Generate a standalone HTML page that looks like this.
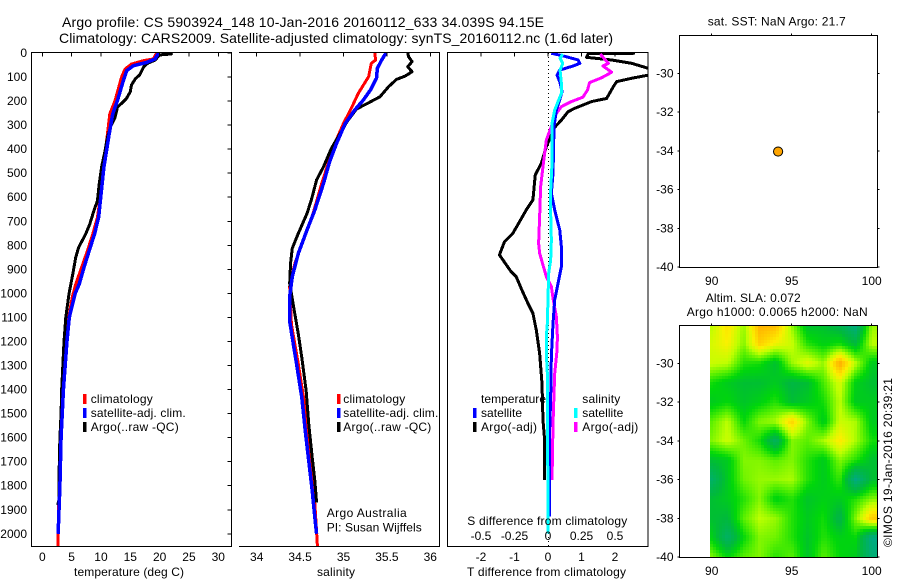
<!DOCTYPE html>
<html lang="en">
<head>
<meta charset="utf-8">
<title>Argo profile CS 5903924_148</title>
<style>
html,body{margin:0;padding:0;background:#fff;}
svg{display:block;}
text{font-family:"Liberation Sans",Arial,sans-serif;font-size:12px;fill:#000;}
.title{font-size:14px;}
</style>
</head>
<body>
<svg id="chart" xmlns="http://www.w3.org/2000/svg" width="900" height="580" viewBox="0 0 900 580">
  <defs>
    <clipPath id="clip-temp"><rect x="31" y="52" width="200.5" height="494.5"/></clipPath>
    <clipPath id="clip-sal"><rect x="239" y="52" width="200.5" height="494.5"/></clipPath>
    <clipPath id="clip-diff"><rect x="447.5" y="52" width="200.5" height="494.5"/></clipPath>
    <clipPath id="clip-map"><rect x="679.5" y="325" width="198" height="232"/></clipPath>
  </defs>
  <rect x="0" y="0" width="900" height="580" fill="#fff"/>

  <text class="title" x="62" y="27" textLength="482" lengthAdjust="spacing">Argo profile: CS 5903924_148 10-Jan-2016 20160112_633 34.039S 94.15E</text>
  <text class="title" x="59" y="43" textLength="554" lengthAdjust="spacing">Climatology: CARS2009. Satellite-adjusted climatology: synTS_20160112.nc (1.6d later)</text>

  <g id="temp-panel">
    <g id="temp-lines" clip-path="url(#clip-temp)"></g>
    <path d="M31.5 52.5H231.5V546.5H31.5Z" fill="none" stroke="#000" stroke-width="1" shape-rendering="crispEdges"/>
    <g id="temp-ticks"></g>
    <text x="129" y="576" text-anchor="middle" textLength="110" lengthAdjust="spacing">temperature (deg C)</text>
    <rect x="83" y="394" width="3.5" height="10" fill="#f00"/>
    <text x="90.7" y="403" textLength="62" lengthAdjust="spacing">climatology</text>
    <rect x="83" y="408" width="3.5" height="10" fill="#00f"/>
    <text x="90.7" y="417" textLength="95" lengthAdjust="spacing">satellite-adj. clim.</text>
    <rect x="83" y="422" width="3.5" height="10" fill="#000"/>
    <text x="90.7" y="431" textLength="88" lengthAdjust="spacing">Argo(..raw -QC)</text>
  </g>

  <g id="sal-panel">
    <g id="sal-lines" clip-path="url(#clip-sal)"></g>
    <path d="M239 52.5H439.5V546.5H239" fill="none" stroke="#000" stroke-width="1" shape-rendering="crispEdges"/>
    <g id="sal-ticks"></g>
    <text x="336" y="576" text-anchor="middle" textLength="38" lengthAdjust="spacing">salinity</text>
    <rect x="337" y="394" width="3.5" height="10" fill="#f00"/>
    <text x="343.3" y="403" textLength="62" lengthAdjust="spacing">climatology</text>
    <rect x="337" y="408" width="3.5" height="10" fill="#00f"/>
    <text x="343.3" y="417" textLength="95" lengthAdjust="spacing">satellite-adj. clim.</text>
    <rect x="337" y="422" width="3.5" height="10" fill="#000"/>
    <text x="343.3" y="431" textLength="88" lengthAdjust="spacing">Argo(..raw -QC)</text>
    <text x="326.7" y="517" textLength="80" lengthAdjust="spacing">Argo Australia</text>
    <text x="326.7" y="531.5" textLength="95" lengthAdjust="spacing">PI: Susan Wijffels</text>
  </g>

  <g id="diff-panel">
    <line x1="548.5" y1="53" x2="548.5" y2="546" stroke="#000" stroke-width="1" stroke-dasharray="1 3" shape-rendering="crispEdges"/>
    <g id="diff-lines" clip-path="url(#clip-diff)"></g>
    <path d="M447.5 52.5H648V546.5H447.5Z" fill="none" stroke="#000" stroke-width="1" shape-rendering="crispEdges"/>
    <g id="diff-ticks"></g>
    <text x="467" y="576" textLength="159" lengthAdjust="spacing">T difference from climatology</text>
    <text x="467.3" y="525" textLength="160" lengthAdjust="spacing">S difference from climatology</text>
    <text x="481" y="403" textLength="65" lengthAdjust="spacing">temperature</text>
    <rect x="473" y="408" width="3.5" height="10" fill="#00f"/>
    <text x="481" y="417" textLength="41" lengthAdjust="spacing">satellite</text>
    <rect x="473" y="422" width="3.5" height="10" fill="#000"/>
    <text x="481" y="431" textLength="56" lengthAdjust="spacing">Argo(-adj)</text>
    <text x="582.3" y="403" textLength="38" lengthAdjust="spacing">salinity</text>
    <rect x="574" y="408" width="3.5" height="10" fill="#0ff"/>
    <text x="582.3" y="417" textLength="41" lengthAdjust="spacing">satellite</text>
    <rect x="574" y="422" width="3.5" height="10" fill="#f0f"/>
    <text x="582.3" y="431" textLength="56" lengthAdjust="spacing">Argo(-adj)</text>
  </g>

  <g id="sst-map">
    <text x="776.7" y="25.5" text-anchor="middle" textLength="138" lengthAdjust="spacing">sat. SST: NaN Argo: 21.7</text>
    <rect x="679.5" y="35.5" width="198" height="232" fill="none" stroke="#000" stroke-width="1" shape-rendering="crispEdges"/>
    <g id="sst-ticks"></g>
    <g id="sst-marks"></g>
  </g>

  <g id="sla-map">
    <text x="705.7" y="302" textLength="95" lengthAdjust="spacing">Altim. SLA: 0.072</text>
    <text x="686.7" y="316" textLength="181" lengthAdjust="spacing">Argo h1000: 0.0065 h2000: NaN</text>
    <g id="sla-cells" clip-path="url(#clip-map)"></g>
    <rect x="679.5" y="325.5" width="198" height="232" fill="none" stroke="#000" stroke-width="1" shape-rendering="crispEdges"/>
    <g id="sla-ticks"></g>
  </g>

  <text transform="translate(892 547) rotate(-90)" x="0" y="0" textLength="169" lengthAdjust="spacing">©IMOS 19-Jan-2016 20:39:21</text>
</svg>

<script>
// ---------- temperature panel data ----------
var climTempDepths = [0,25,32,46,67,101,198,254,337,475,614,684,753,822,892,961,1016,1100,1200,1300,1400,1500,1600,1700,1800,1900,2000,2050];
var climTempValues = [19.5,18.9,17.2,15.2,14.1,13.5,12.4,11.5,11.1,10.4,9.8,9.4,8.6,7.7,6.7,5.7,5.1,4.5,4.1,3.8,3.5,3.3,3.1,3.0,2.9,2.75,2.7,2.7];
var satTempDepths = [0,25,39,53,73,108,198,254,337,475,614,684,753,822,892,961,1000,1100,1200,1300,1400,1500,1600,1700,1800,1900,2000];
var satTempValues = [19.8,19.2,17.8,15.5,14.4,13.9,12.8,12,11.4,10.5,9.9,9.6,8.9,8,7.1,6.3,5.6,4.6,4.2,3.9,3.6,3.4,3.2,3.1,3.0,2.85,2.7];
var argoTempDepths = [0,4,8,30,42,57,91,106,133,161,191,226,268,302,350,406,475,545,614,656,711,753,808,850,919,1002,1100,1200,1300,1400,1500,1600,1700,1800,1860,1880];
var argoTempValues = [21.7,22,20,19.2,18,17.3,16.6,15.9,15.2,15,14.3,12.8,12.4,11.7,11.1,10.7,10.1,9.7,9.4,8.8,8.1,7.4,6.2,5.7,5.2,4.55,4.0,3.7,3.5,3.3,3.2,3.0,2.9,2.85,2.85,2.6];

// ---------- salinity panel data ----------
var climSalDepths = [0,29,43,98,133,168,230,293,376,452,542,667,778,875,972,1129,1295,1434,1545,1684,1822,1933,2055];
var climSalValues = [35.36,35.37,35.32,35.29,35.23,35.17,35.09,35,34.9,34.83,34.75,34.65,34.54,34.44,34.38,34.4,34.48,34.54,34.59,34.63,34.66,34.68,34.7];
var satSalDepths = [0,29,64,105,154,195,237,293,376,452,542,653,736,833,930,1013,1115,1184,1295,1434,1573,1698,1822,1933,2000];
var satSalValues = [35.49,35.44,35.39,35.38,35.31,35.23,35.13,35.02,34.92,34.84,34.77,34.67,34.58,34.48,34.41,34.38,34.38,34.41,34.46,34.52,34.56,34.6,34.64,34.67,34.69];
var argoSalDepths = [0,15,36,57,78,96,110,140,182,207,233,286,348,397,473,528,611,667,750,812,875,958,1045,1170,1268,1406,1545,1684,1780,1870];
var argoSalValues = [35.74,35.75,35.79,35.74,35.79,35.71,35.61,35.52,35.42,35.29,35.15,35.04,34.94,34.86,34.77,34.69,34.63,34.58,34.48,34.41,34.39,34.38,34.42,34.48,34.52,34.57,34.6,34.64,34.67,34.69];

// ---------- difference panel data ----------
var diffArgoTDepths = [1,3,18,29,43,64,73,92,105,119,140,189,202,230,244,279,309,390,459,507,611,653,702,750,785,840,910,930,986,1041,1083,1152,1249,1374,1527,1610,1776];
var diffArgoTValues = [2.6,1.2,1.15,1.9,2.5,3.0,3.1,3,2.5,2.05,1.95,1.75,1.3,0.8,0.6,0.4,0.2,-0.05,-0.2,-0.38,-0.45,-0.65,-0.85,-1.05,-1.3,-1.45,-1.1,-0.95,-0.78,-0.6,-0.45,-0.35,-0.25,-0.18,-0.15,-0.1,-0.1];
var diffSatTDepths = [1,12,29,43,54,71,92,119,161,195,237,306,500,584,653,736,806,889,944,1027,1125,1263,1430,1568,1929];
var diffSatTValues = [0.1,0.45,0.9,0.95,0.75,0.35,0.27,0.35,0.42,0.35,0.25,0.18,0.15,0.1,0.2,0.35,0.4,0.4,0.32,0.2,0.15,0.1,0.08,0.05,0.05];
var diffSatSDepths = [4,22,43,71,126,168,202,237,293,459,570,667,778,861,916,1021,1125,1180,1249,1333,1541,1818,1998];
var diffSatSValues = [0.11,0.09,0.11,0.09,0.1,0.1,0.075,0.05,0.03,0.03,0.02,0.02,0.025,0.02,0.005,0,-0.005,-0.0125,-0.0125,-0.005,-0.005,0,0];
var diffArgoSDepths = [4,43,54,80,103,123,154,184,202,223,251,306,362,473,556,681,792,833,882,930,972,1021,1097,1180,1236,1333,1458,1541,1776];
var diffArgoSValues = [0.39,0.45,0.41,0.475,0.4,0.31,0.295,0.26,0.175,0.1,0.0625,0.025,-0.0125,-0.0375,-0.055,-0.0625,-0.07,-0.0625,-0.0375,-0.0125,0.025,0.0375,0.0625,0.07,0.0675,0.05,0.0425,0.0375,0.03];

// ---------- map data ----------
var floatLon = [94.15];
var floatLat = [-34.04];
var slaLons = [90,91,92,93,94,95,96,97,98,99,100];
var slaLats = [-28,-29,-30,-31,-32,-33,-34,-35,-36,-37,-38,-39,-40];
var slaValues = [
  [0.05,0.12,0.03,0.18,0.17,0.03,-0.09,-0.09,-0.13,-0.20,0.03],
  [0.07,0.10,0.02,0.14,0.09,0.06,-0.03,-0.06,-0.04,-0.10,0.05],
  [0.06,0.05,-0.03,-0.04,-0.09,0.03,0.08,0.03,0.19,0.05,-0.07],
  [-0.04,-0.07,-0.09,-0.09,-0.07,-0.11,-0.09,-0.01,0.07,-0.06,-0.09],
  [-0.07,-0.05,-0.08,-0.06,-0.03,-0.09,-0.07,-0.04,0.05,-0.07,-0.07],
  [0.00,0.05,-0.05,0.02,0.04,0.14,0.02,-0.07,0.06,0.04,-0.07],
  [0.02,0.06,0.01,-0.04,-0.15,0.02,0.00,0.04,0.11,0.04,-0.04],
  [-0.09,-0.07,0.02,0.02,0.00,0.02,-0.03,-0.07,0.02,-0.03,-0.09],
  [-0.16,-0.07,0.01,0.03,0.03,0.04,-0.03,-0.07,-0.02,-0.20,-0.09],
  [-0.09,-0.07,-0.03,0.02,-0.06,-0.03,-0.08,-0.06,-0.07,-0.03,0.02],
  [-0.09,-0.10,0.00,0.05,0.03,-0.03,-0.07,-0.04,-0.12,0.02,0.15],
  [-0.06,-0.16,-0.05,0.02,0.01,-0.03,-0.08,-0.03,-0.06,-0.05,-0.20],
  [0.02,-0.05,0.00,0.02,-0.03,0.00,-0.08,0.00,-0.05,-0.07,-0.18]
];

// ---------- tick labels ----------
var depthTicks = [0,100,200,300,400,500,600,700,800,900,1000,1100,1200,1300,1400,1500,1600,1700,1800,1900,2000];
var tempTicks = [0,5,10,15,20,25,30];
var salTicks = [34,34.5,35,35.5,36];
var salTickLabels = ['34','34.5','35','35.5','36'];
var diffTTicks = [-2,-1,0,1,2];
var diffTLabels = ['-2','-1','0','1','2'];
var diffSTicks = [-0.5,-0.25,0,0.25,0.5];
var diffSLabels = ['-0.5','-0.25','0','0.25','0.5'];
var lonTicks = [90,95,100];
var latTicks = [-30,-32,-34,-36,-38,-40];

// ---------- scales ----------
var SVGNS = 'http://www.w3.org/2000/svg';
function yDepth(d){ return 53 + d * 0.2404; }
function xTemp(t){ return 42.3 + t * 5.867; }
function xSal(s){ return 256.7 + (s - 34) * 86.8; }
function xDiffT(t){ return 548 + t * 33.5; }
function xDiffS(s){ return 548 + s * 134; }
function xLon(l){ return 711.7 + (l - 90) * 16; }
function yLatTop(l){ return 73.3 + (-30 - l) * 19.37; }
function yLatBottom(l){ return 363.3 + (-30 - l) * 19.37; }
function lonFromX(x){ return 90 + (x - 711.7) / 16; }
function latFromYBottom(y){ return -30 - (y - 363.3) / 19.37; }

function drawLine(parentId, depths, values, xFn, color, width, name){
  var pts = [];
  for (var i = 0; i < values.length; i++) {
    pts.push(xFn(values[i]).toFixed(2) + ',' + yDepth(depths[i]).toFixed(2));
  }
  var el = document.createElementNS(SVGNS, 'polyline');
  
  
  el.setAttribute('points', pts.join(' '));
  el.setAttribute('fill', 'none');
  el.setAttribute('stroke', color);
  el.setAttribute('stroke-width', width);
  el.setAttribute('stroke-linejoin', 'round');
  el.setAttribute('shape-rendering', 'crispEdges');
  document.getElementById(parentId).appendChild(el);
}

function tickMark(parentId, x1, y1, x2, y2, name){
  var el = document.createElementNS(SVGNS, 'line');
  
  
  el.setAttribute('x1', x1);
  el.setAttribute('y1', y1);
  el.setAttribute('x2', x2);
  el.setAttribute('y2', y2);
  el.setAttribute('stroke', '#000');
  el.setAttribute('stroke-width', 1);
  el.setAttribute('shape-rendering', 'crispEdges');
  document.getElementById(parentId).appendChild(el);
}

function tickLabel(parentId, x, y, anchor, str, name){
  var el = document.createElementNS(SVGNS, 'text');
  
  
  el.setAttribute('x', x);
  el.setAttribute('y', y);
  el.setAttribute('text-anchor', anchor);
  el.textContent = str;
  document.getElementById(parentId).appendChild(el);
}

// ---------- series ----------
drawLine('temp-lines', climTempDepths, climTempValues, xTemp, '#f00', 3, 'climatology-temperature-line');
drawLine('temp-lines', argoTempDepths, argoTempValues, xTemp, '#000', 3, 'argo-temperature-line');
drawLine('temp-lines', satTempDepths, satTempValues, xTemp, '#00f', 3.5, 'satellite-temperature-line');

drawLine('sal-lines', climSalDepths, climSalValues, xSal, '#f00', 3, 'climatology-salinity-line');
drawLine('sal-lines', argoSalDepths, argoSalValues, xSal, '#000', 3, 'argo-salinity-line');
drawLine('sal-lines', satSalDepths, satSalValues, xSal, '#00f', 3.5, 'satellite-salinity-line');

drawLine('diff-lines', diffArgoTDepths, diffArgoTValues, xDiffT, '#000', 3, 'argo-t-difference-line');
drawLine('diff-lines', diffArgoSDepths, diffArgoSValues, xDiffS, '#f0f', 3, 'argo-s-difference-line');
drawLine('diff-lines', diffSatTDepths, diffSatTValues, xDiffT, '#00f', 3, 'satellite-t-difference-line');
drawLine('diff-lines', diffSatSDepths, diffSatSValues, xDiffS, '#0ff', 3, 'satellite-s-difference-line');

// ---------- axes ----------
depthTicks.forEach(function(d){
  var y = yDepth(d);
  tickMark('temp-ticks', 227.5, y, 231.5, y, 'depth-tick-mark');
  tickLabel('temp-ticks', 27, y + 4, 'end', String(d), 'depth-tick-label');
});
tempTicks.forEach(function(t){
  var x = xTemp(t);
  tickMark('temp-ticks', x, 52.5, x, 56.5, 'temperature-tick-mark');
  tickLabel('temp-ticks', x, 561, 'middle', String(t), 'temperature-tick-label');
});
salTicks.forEach(function(s, i){
  var x = xSal(s);
  tickMark('sal-ticks', x, 52.5, x, 56.5, 'salinity-tick-mark');
  tickLabel('sal-ticks', x, 561, 'middle', salTickLabels[i], 'salinity-tick-label');
});
diffTTicks.forEach(function(t, i){
  var x = xDiffT(t);
  tickMark('diff-ticks', x, 52.5, x, 56.5, 'difference-tick-mark');
  tickLabel('diff-ticks', x, 561, 'middle', diffTLabels[i], 't-difference-tick-label');
});
diffSTicks.forEach(function(s, i){
  var x = xDiffS(s);
  tickLabel('diff-ticks', x, 540, 'middle', diffSLabels[i], 's-difference-tick-label');
});

function mapAxes(parentId, top, yFn, labelY, prefix){
  lonTicks.forEach(function(l){
    var x = xLon(l);
    tickMark(parentId, x, top + 0.5, x, top - 1.5, prefix + '-lon-tick-mark');
    tickLabel(parentId, x, labelY, 'middle', String(l), prefix + '-lon-tick-label');
  });
  latTicks.forEach(function(l){
    var y = yFn(l);
    tickMark(parentId, 877.5, y, 879.5, y, prefix + '-lat-tick-mark');
    tickMark(parentId, 677.5, y, 679.5, y, prefix + '-lat-tick-mark');
    tickLabel(parentId, 673.5, y + 4, 'end', String(l), prefix + '-lat-tick-label');
  });
}
mapAxes('sst-ticks', 35, yLatTop, 285, 'sst');
mapAxes('sla-ticks', 325, yLatBottom, 575, 'sla');

// ---------- float position marker ----------
floatLon.forEach(function(lon, i){
  var el = document.createElementNS(SVGNS, 'circle');
  
  
  el.setAttribute('cx', xLon(lon));
  el.setAttribute('cy', yLatTop(floatLat[i]));
  el.setAttribute('r', 4.6);
  el.setAttribute('fill', '#ffa500');
  el.setAttribute('stroke', '#000');
  el.setAttribute('stroke-width', 1);
  document.getElementById('sst-marks').appendChild(el);
});

// ---------- heatmap ----------
var rampStops = [-0.2,-0.1,-0.05,0,0.05,0.1,0.15,0.2];
var rampColors = [[0,170,130],[0,185,60],[0,215,10],[90,240,0],[190,255,0],[250,240,0],[255,200,0],[255,160,0]];
function rampColor(v){
  if (v <= rampStops[0]) return 'rgb(' + rampColors[0].join(',') + ')';
  for (var i = 1; i < rampStops.length; i++) {
    if (v <= rampStops[i]) {
      var f = (v - rampStops[i-1]) / (rampStops[i] - rampStops[i-1]);
      var a = rampColors[i-1], b = rampColors[i];
      return 'rgb(' + Math.round(a[0]+(b[0]-a[0])*f) + ',' + Math.round(a[1]+(b[1]-a[1])*f) + ',' + Math.round(a[2]+(b[2]-a[2])*f) + ')';
    }
  }
  return 'rgb(' + rampColors[rampColors.length-1].join(',') + ')';
}
function sampleSla(lon, lat){
  var cf = Math.max(0, Math.min(slaLons.length - 1.001, lon - slaLons[0]));
  var rf = Math.max(0, Math.min(slaLats.length - 1.001, slaLats[0] - lat));
  var c = Math.floor(cf), r = Math.floor(rf), u = cf - c, w = rf - r;
  var top = slaValues[r][c] * (1 - u) + slaValues[r][c + 1] * u;
  var bot = slaValues[r + 1][c] * (1 - u) + slaValues[r + 1][c + 1] * u;
  return top * (1 - w) + bot * w;
}
(function(){
  var host = document.getElementById('sla-cells');
  var step = 3;
  for (var x = 710; x < 878; x += step) {
    for (var y = 325; y < 558; y += step) {
      var el = document.createElementNS(SVGNS, 'rect');
      
      
      el.setAttribute('x', x);
      el.setAttribute('y', y);
      el.setAttribute('width', step);
      el.setAttribute('height', step);
      el.setAttribute('fill', rampColor(sampleSla(lonFromX(x + step / 2), latFromYBottom(y + step / 2))));
      el.setAttribute('shape-rendering', 'crispEdges');
      host.appendChild(el);
    }
  }
})();
</script>
</body>
</html>
